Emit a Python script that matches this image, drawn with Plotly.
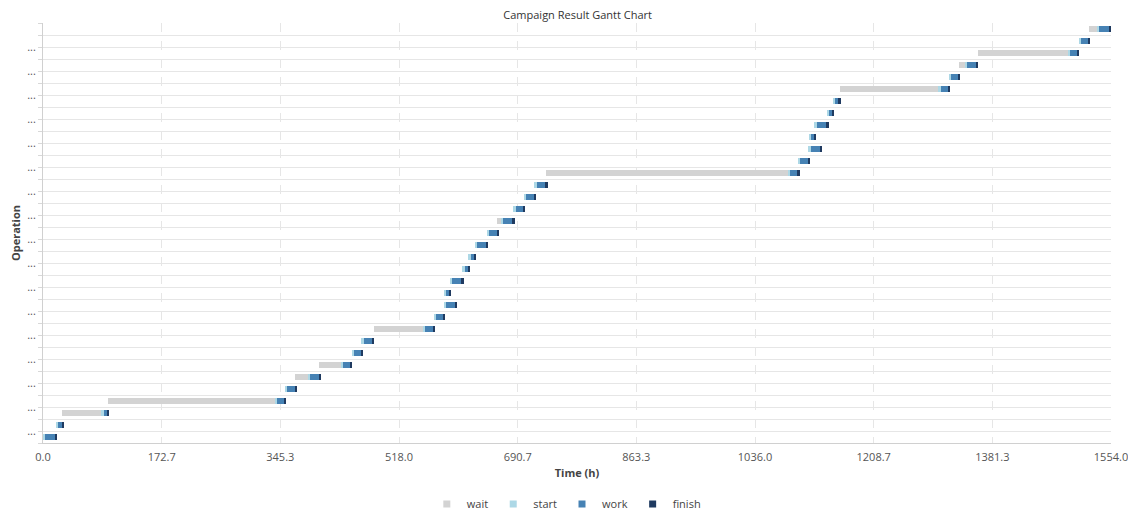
"""
Campaign result Gantt chart: wait / start / work / finish phases per operation.
"""
import plotly.graph_objects as go

# phase boundaries per operation (hours), bottom row first; None = no wait phase
wait_begin = [None, None, 28, 95, None, 367, 402, None, None, 481,
              None, None, None, None, None, None, None, None, 660, None,
              None, None, 732, None, None, None, None, None, None, 1159,
              None, 1332.5, 1360, None, 1522]
start_begin = [0, 18.5, 85, 337, 352, 386, 433, 449, 463, 553,
               568.5, 583, 583, 591.5, 610, 619, 628, 645.5, 667, 684.5,
               699.5, 715, 1084, 1098.5, 1113.5, 1114.5, 1122.5, 1140.5, 1149, 1302,
               1318, 1341, 1491, 1507, 1533.5]
work_begin = [3, 21.5, 88.5, 340.5, 355, 389, 436, 452, 466.5, 556.5,
              572, 586.5, 586, 595, 613.5, 622.5, 632, 649, 670, 688.5,
              702.5, 719, 1087, 1102, 1117, 1117.5, 1126.5, 1144, 1152.5, 1306,
              1321.5, 1345, 1495, 1510.5, 1537]
finish_begin = [17, 27, 94, 350.5, 366, 401.5, 446, 462, 478.5, 567,
                582, 599, 591, 608.5, 618, 627.5, 644, 660, 683, 698.5,
                714, 731, 1097.5, 1112.5, 1131, 1121.5, 1139.5, 1148.5, 1157, 1316.5,
                1332, 1358, 1505, 1521, 1550.5]
finish_end = [20, 30, 96.5, 354, 369.5, 405, 449.5, 465.5, 481.5, 570,
              585, 602.5, 594, 612, 621, 630, 648, 663, 686.5, 701.5,
              717.5, 735, 1101, 1115.5, 1134, 1124.5, 1143, 1151.5, 1160.5, 1320,
              1335, 1361, 1508, 1524, 1554]

x_ticks = [0.0, 172.7, 345.3, 518.0, 690.7, 863.3, 1036.0, 1208.7, 1381.3, 1554.0]

rows = list(range(len(start_begin)))

phase_colors = {
    'wait': '#d3d3d3',
    'start': '#add8e6',
    'work': '#4682b4',
    'finish': '#1f3a60',
}

wait_x = [None if b is None else s - b for b, s in zip(wait_begin, start_begin)]
phases = [
    ('wait', wait_begin, wait_x),
    ('start', start_begin, [w - s for s, w in zip(start_begin, work_begin)]),
    ('work', work_begin, [f - w for w, f in zip(work_begin, finish_begin)]),
    ('finish', finish_begin, [e - f for f, e in zip(finish_begin, finish_end)]),
]

fig = go.Figure()
for name, base, dur in phases:
    fig.add_trace(go.Bar(
        name=name,
        y=rows,
        x=dur,
        base=base,
        orientation='h',
        width=0.44,
        marker=dict(color=phase_colors[name], line=dict(width=0)),
        showlegend=False,
        hovertemplate=name + ': %{base:.1f} - %{x:.1f} h<extra></extra>'
    ))

# legend proxies with small square swatches
for name in phase_colors:
    fig.add_trace(go.Scatter(
        name=name,
        x=[None],
        y=[None],
        mode='markers',
        marker=dict(symbol='square', size=7, color=phase_colors[name]),
        hoverinfo='skip'
    ))

# grid lines sit on row boundaries, label every other one
grid_vals = [r - 0.5 for r in range(len(rows) + 1)]
grid_text = ['...' if (i % 2 == 1 and v < len(rows) - 1) else '' for i, v in enumerate(grid_vals)]

# page body adds an 8px margin, so the figure is sized to fit the window
fig.update_layout(
    width=1128,
    height=506,
    barmode='overlay',
    plot_bgcolor='white',
    paper_bgcolor='white',
    font=dict(family='Open Sans, sans-serif', size=11, color='#555555'),
    title=dict(text='Campaign Result Gantt Chart', x=0.505, xanchor='center',
               yref='container', y=0.993, yanchor='top',
               font=dict(size=11, color='#333333')),
    margin=dict(l=35, r=25, t=15, b=71, autoexpand=False),
    bargap=0,
    legend=dict(orientation='h', x=0.49, xanchor='center', y=-0.145, yanchor='middle',
                font=dict(size=11, color='#444444'), itemwidth=30,
                traceorder='normal'),
    showlegend=True,
)

fig.update_xaxes(
    range=[0, 1554],
    tickvals=x_ticks,
    ticktext=[f'{v:.1f}' for v in x_ticks],
    showgrid=True,
    gridcolor='#e6e6e6',
    griddash='dash',
    zeroline=False,
    showline=True,
    linecolor='#d0d0d0',
    ticks='outside',
    ticklen=4,
    tickcolor='rgba(0,0,0,0)',
    automargin=False,
    tickfont=dict(size=11, color='#555555'),
    title=dict(text='<b>Time (h)</b>', standoff=6, font=dict(size=11, color='#444444')),
)

fig.update_yaxes(
    range=[-0.5, len(rows) - 0.5],
    tickvals=grid_vals,
    ticktext=grid_text,
    showgrid=True,
    gridcolor='#e6e6e6',
    gridwidth=1,
    zeroline=False,
    showline=True,
    linecolor='#d0d0d0',
    ticks='outside',
    ticklen=4,
    tickcolor='#d8d8d8',
    automargin=False,
    tickfont=dict(size=11, color='#555555'),
    title=dict(text='<b>Operation</b>', standoff=8, font=dict(size=11, color='#444444')),
)

fig.write_html("out.html")
